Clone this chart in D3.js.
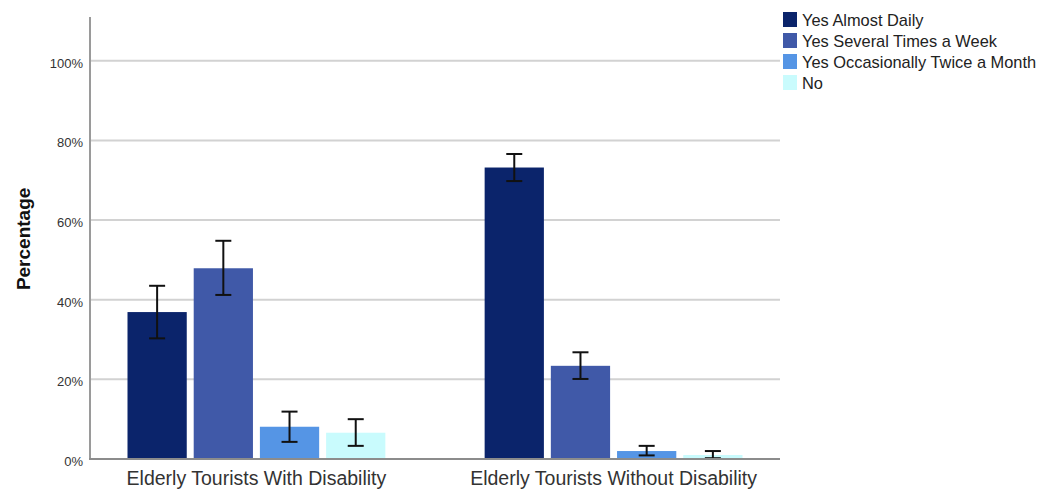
<!DOCTYPE html>
<html>
<head>
<meta charset="utf-8">
<script src="https://cdn.jsdelivr.net/npm/d3@7"></script>
<style>
  html, body { margin: 0; padding: 0; background: #fff; }
  svg { display: block; font-family: Arial, "Liberation Sans", sans-serif; }
</style>
</head>
<body>
<svg id="chart" width="1042" height="491"></svg>
<script>
// Groups along the x axis
const groups = ["Elderly Tourists With Disability", "Elderly Tourists Without Disability"];
// Answer categories (one bar per category in each group)
const series = ["Yes Almost Daily", "Yes Several Times a Week", "Yes Occasionally Twice a Month", "No"];
const seriesColors = ["#0b246b", "#4059a8", "#5595e5", "#c9fbfd"];
// Percentages per group, in series order
const withDisability = [36.9, 47.9, 8.1, 6.6];
const withoutDisability = [73.2, 23.4, 2.0, 1.0];
// 95% confidence interval bounds
const withLow = [30.3, 41.2, 4.3, 3.3];
const withHigh = [43.5, 54.8, 11.9, 10.0];
const withoutLow = [69.8, 20.1, 0.9, 0.2];
const withoutHigh = [76.6, 26.8, 3.3, 2.0];
// Y tick values and labels
const yTicks = [0, 20, 40, 60, 80, 100];
const yTickLabels = ["0%", "20%", "40%", "60%", "80%", "100%"];

const values = [withDisability, withoutDisability];
const lows = [withLow, withoutLow];
const highs = [withHigh, withoutHigh];

const rows = [];
groups.forEach((g, gi) => series.forEach((s, si) => {
  rows.push({ group: g, series: s, value: values[gi][si], low: lows[gi][si], high: highs[gi][si], color: seriesColors[si] });
}));

const svg = d3.select("#chart");
const plotLeft = 90, plotRight = 780, plotTop = 17, plotBottom = 459;

const y = d3.scaleLinear().domain([0, 111]).range([plotBottom, plotTop]);
const x0 = d3.scaleBand().domain(groups).range([plotLeft, plotRight]).paddingInner(0.278).paddingOuter(0.105);
const x1 = d3.scaleBand().domain(series).range([0, x0.bandwidth()]).paddingInner(0.105).paddingOuter(0);

// Horizontal gridlines
svg.append("g").selectAll("line").data(yTicks.slice(1)).join("line")
  .attr("x1", plotLeft).attr("x2", plotRight)
  .attr("y1", d => y(d)).attr("y2", d => y(d))
  .attr("stroke", "#d2d2d2").attr("stroke-width", 2);

// Bars
svg.append("g").selectAll("rect").data(rows).join("rect")
  .attr("x", d => x0(d.group) + x1(d.series))
  .attr("y", d => y(d.value))
  .attr("width", x1.bandwidth())
  .attr("height", d => y(0) - y(d.value))
  .attr("fill", d => d.color);

// Error bars
const eb = svg.append("g").attr("stroke", "#111").attr("stroke-width", 2);
const capHalf = 8;
rows.forEach(d => {
  const cx = x0(d.group) + x1(d.series) + x1.bandwidth() / 2;
  eb.append("line").attr("x1", cx).attr("x2", cx).attr("y1", y(d.low)).attr("y2", y(d.high));
  eb.append("line").attr("x1", cx - capHalf).attr("x2", cx + capHalf).attr("y1", y(d.low)).attr("y2", y(d.low));
  eb.append("line").attr("x1", cx - capHalf).attr("x2", cx + capHalf).attr("y1", y(d.high)).attr("y2", y(d.high));
});

// Y axis
const yAxis = d3.axisLeft(y).tickValues(yTicks).tickSize(0).tickPadding(7)
  .tickFormat((d, i) => yTickLabels[i]);
const gy = svg.append("g").attr("transform", `translate(${plotLeft},0)`).call(yAxis);
gy.select(".domain").remove();
gy.selectAll("text").attr("font-size", 13).attr("fill", "#333").attr("dy", "0.5em")
  .attr("font-family", "Arial, 'Liberation Sans', sans-serif");
svg.append("line").attr("x1", plotLeft).attr("x2", plotLeft).attr("y1", plotTop).attr("y2", plotBottom)
  .attr("stroke", "#9a9a9a").attr("stroke-width", 2);

// X axis
const xAxis = d3.axisBottom(x0).tickSize(0).tickPadding(12);
const gx = svg.append("g").attr("transform", `translate(0,${plotBottom})`).call(xAxis);
gx.select(".domain").remove();
gx.selectAll("text").attr("font-size", 19.5).attr("fill", "#333")
  .attr("font-family", "Arial, 'Liberation Sans', sans-serif");
svg.append("line").attr("x1", plotLeft - 1).attr("x2", plotRight).attr("y1", plotBottom).attr("y2", plotBottom)
  .attr("stroke", "#8c8c8c").attr("stroke-width", 2);

// Y axis title
svg.append("text")
  .attr("transform", `translate(30,${(y(0) + y(100)) / 2 - 21}) rotate(-90)`)
  .attr("text-anchor", "middle")
  .attr("font-size", 19).attr("font-weight", "bold").attr("fill", "#111")
  .text("Percentage");

// Legend
const legend = svg.append("g").attr("transform", "translate(783,12)");
const item = legend.selectAll("g").data(series).join("g")
  .attr("transform", (d, i) => `translate(0,${i * 21})`);
item.append("rect").attr("width", 14).attr("height", 15)
  .attr("fill", (d, i) => seriesColors[i]);
item.append("text").attr("x", 19).attr("y", 14).attr("font-size", 16.4).attr("fill", "#222")
  .text(d => d);
</script>
</body>
</html>
